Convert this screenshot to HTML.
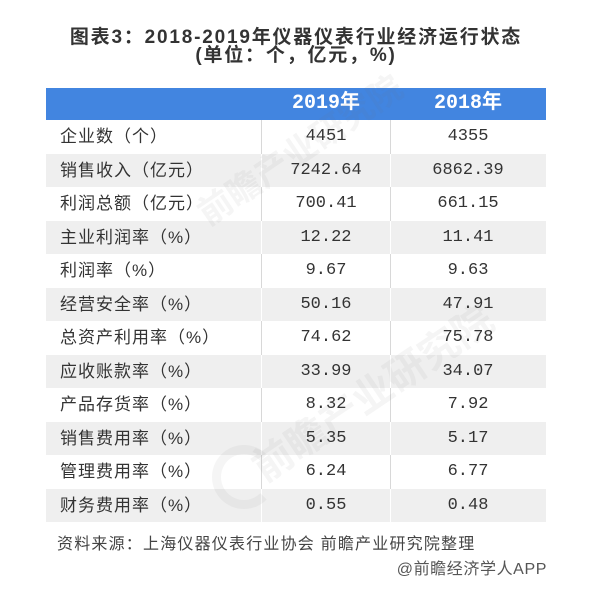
<!DOCTYPE html>
<html>
<head>
<meta charset="utf-8">
<style>
  html,body{margin:0;padding:0;}
  body{width:600px;height:602px;background:#fff;position:relative;overflow:hidden;
       font-family:"Liberation Sans","Noto Sans CJK SC",sans-serif;color:#333;}
  .abs{position:absolute;}
  .t{position:absolute;left:46px;width:500px;text-align:center;font-weight:bold;
     font-size:19px;letter-spacing:1.8px;color:#333;height:20px;line-height:20px;white-space:nowrap;}
  .hdr{position:absolute;left:46px;top:88px;width:500px;height:32px;background:#4285e0;}
  .hc{position:absolute;top:0;height:32px;line-height:32px;text-align:center;color:#fff;
      font-family:"Liberation Mono","Noto Sans CJK SC",monospace;font-weight:bold;font-size:20px;}
  .row{position:absolute;left:46px;width:500px;height:33.5px;}
  .g{background:#efefef;}
  .c1{position:absolute;left:14px;top:0;height:33.5px;line-height:33.5px;font-size:17px;
      letter-spacing:1px;font-family:"Liberation Sans","Noto Sans CJK SC",sans-serif;color:#333;white-space:nowrap;}
  .c2,.c3{position:absolute;top:0;height:33.5px;line-height:33.5px;text-align:center;
      font-family:"Liberation Mono","Noto Sans CJK SC",monospace;font-size:17px;color:#333;}
  .c2{left:216px;width:128px;}
  .c3{left:344px;width:156px;}
  .vl{position:absolute;top:0;width:1px;height:33.5px;background:#d8d8d8;}
  .g .vl{background:#ffffff;}
  .wm{position:absolute;font-family:"Liberation Sans","Noto Sans CJK SC",sans-serif;font-weight:bold;
      color:rgba(120,120,120,0.07);white-space:nowrap;transform-origin:left center;}
</style>
</head>
<body>

<div class="t" style="top:27.5px;">图表3：2018-2019年仪器仪表行业经济运行状态</div>
<div class="t" style="top:45.5px;">(单位：个，亿元，%)</div>

<div class="hdr">
  <div class="hc" style="left:216px;width:128px;">2019年</div>
  <div class="hc" style="left:344px;width:156px;">2018年</div>
</div>

<div class="row" style="top:120px;"><div class="vl" style="left:215px"></div><div class="vl" style="left:344px"></div>
  <div class="c1">企业数（个）</div><div class="c2">4451</div><div class="c3">4355</div></div>
<div class="row g" style="top:153.5px;"><div class="vl" style="left:215px"></div><div class="vl" style="left:344px"></div>
  <div class="c1">销售收入（亿元）</div><div class="c2">7242.64</div><div class="c3">6862.39</div></div>
<div class="row" style="top:187px;"><div class="vl" style="left:215px"></div><div class="vl" style="left:344px"></div>
  <div class="c1">利润总额（亿元）</div><div class="c2">700.41</div><div class="c3">661.15</div></div>
<div class="row g" style="top:220.5px;"><div class="vl" style="left:215px"></div><div class="vl" style="left:344px"></div>
  <div class="c1">主业利润率（%）</div><div class="c2">12.22</div><div class="c3">11.41</div></div>
<div class="row" style="top:254px;"><div class="vl" style="left:215px"></div><div class="vl" style="left:344px"></div>
  <div class="c1">利润率（%）</div><div class="c2">9.67</div><div class="c3">9.63</div></div>
<div class="row g" style="top:287.5px;"><div class="vl" style="left:215px"></div><div class="vl" style="left:344px"></div>
  <div class="c1">经营安全率（%）</div><div class="c2">50.16</div><div class="c3">47.91</div></div>
<div class="row" style="top:321px;"><div class="vl" style="left:215px"></div><div class="vl" style="left:344px"></div>
  <div class="c1">总资产利用率（%）</div><div class="c2">74.62</div><div class="c3">75.78</div></div>
<div class="row g" style="top:354.5px;"><div class="vl" style="left:215px"></div><div class="vl" style="left:344px"></div>
  <div class="c1">应收账款率（%）</div><div class="c2">33.99</div><div class="c3">34.07</div></div>
<div class="row" style="top:388px;"><div class="vl" style="left:215px"></div><div class="vl" style="left:344px"></div>
  <div class="c1">产品存货率（%）</div><div class="c2">8.32</div><div class="c3">7.92</div></div>
<div class="row g" style="top:421.5px;"><div class="vl" style="left:215px"></div><div class="vl" style="left:344px"></div>
  <div class="c1">销售费用率（%）</div><div class="c2">5.35</div><div class="c3">5.17</div></div>
<div class="row" style="top:455px;"><div class="vl" style="left:215px"></div><div class="vl" style="left:344px"></div>
  <div class="c1">管理费用率（%）</div><div class="c2">6.24</div><div class="c3">6.77</div></div>
<div class="row g" style="top:488.5px;"><div class="vl" style="left:215px"></div><div class="vl" style="left:344px"></div>
  <div class="c1">财务费用率（%）</div><div class="c2">0.55</div><div class="c3">0.48</div></div>

<!-- faint watermarks -->
<div class="wm" style="left:200px;top:190px;font-size:34px;transform:rotate(-34deg);">前瞻产业研究院</div>
<div class="wm" style="left:255px;top:440px;font-size:40px;transform:rotate(-34deg);">前瞻产业研究院</div>
<div class="abs" style="left:212px;top:445px;width:46px;height:46px;border-radius:50%;border:9px solid rgba(120,120,120,0.07);border-right-color:transparent;"></div>

<div class="abs" style="left:57px;top:534px;height:22px;line-height:22px;font-size:16px;letter-spacing:1.2px;color:#444;white-space:nowrap;">资料来源：上海仪器仪表行业协会 前瞻产业研究院整理</div>
<div class="abs" style="left:300px;width:247px;top:560px;height:20px;line-height:20px;font-size:16px;letter-spacing:0.6px;color:#555;text-align:right;white-space:nowrap;">@前瞻经济学人APP</div>

</body>
</html>
